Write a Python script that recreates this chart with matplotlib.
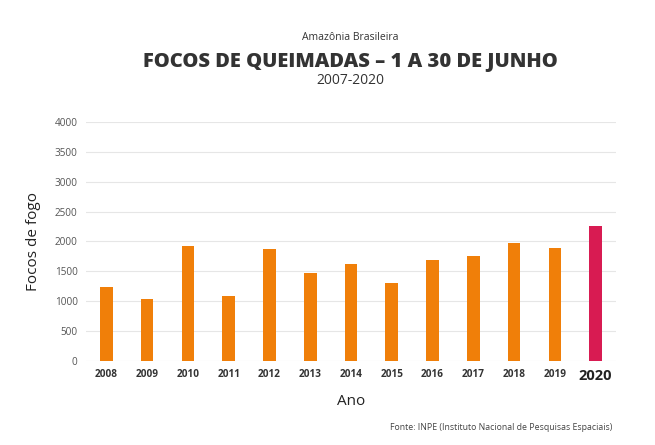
import matplotlib
matplotlib.use("Agg")
import matplotlib.pyplot as plt
import numpy as np

plt.rcParams['font.family'] = ['Open Sans', 'DejaVu Sans']

anos = ['2008', '2009', '2010', '2011', '2012', '2013', '2014',
        '2015', '2016', '2017', '2018', '2019', '2020']
focos = [1240, 1030, 1920, 1085, 1870, 1465, 1620,
         1300, 1680, 1760, 1975, 1895, 2250]
y_ticks = [0, 500, 1000, 1500, 2000, 2500, 3000, 3500, 4000]

laranja = '#F07F09'
destaque = '#D81B52'
cores = [laranja] * (len(anos) - 1) + [destaque]

fig = plt.figure(figsize=(6.55, 4.45), dpi=100)
ax = fig.add_axes([86 / 655, 1 - 360.7 / 445, 530 / 655, 238.7 / 445])

x = np.arange(len(anos))
ax.bar(x, focos, width=0.31, color=cores, zorder=3)

ax.set_xlim(-0.5, len(anos) - 0.5)
ax.set_ylim(0, 4000)
ax.set_yticks(y_ticks)
ax.set_yticklabels([str(t) for t in y_ticks], fontsize=7.2, color='#555555')
ax.set_xticks(x)
ax.set_xticklabels(anos, fontsize=7.2, fontweight='bold', color='#333333')
# 2020 em destaque
lbl = ax.get_xticklabels()[-1]
lbl.set_fontsize(10.5)
lbl.set_color('#222222')

ax.grid(axis='y', color='#e6e6e6', linewidth=0.8, zorder=0)
for s in ax.spines.values():
    s.set_visible(False)
ax.tick_params(axis='both', length=0)
ax.tick_params(axis='x', pad=6)
ax.tick_params(axis='y', pad=6)

ax.set_ylabel('Focos de fogo', fontsize=11, fontweight='medium', color='#222222', labelpad=10)
ax.set_xlabel('Ano', fontsize=11, fontweight='medium', color='#222222', labelpad=8)

cx = 350 / 655
fig.text(cx, 1 - 37 / 445, 'Amazônia Brasileira', ha='center', va='center',
         fontsize=7.5, color='#333333')
fig.text(cx, 1 - 62 / 445, 'FOCOS DE QUEIMADAS – 1 A 30 DE JUNHO', ha='center',
         va='center', fontsize=14.5, fontweight='heavy', color='#333333')
fig.text(cx, 1 - 81 / 445, '2007-2020', ha='center', va='center',
         fontsize=10, color='#333333')
fig.text(612 / 655, 1 - 428 / 445, 'Fonte: INPE (Instituto Nacional de Pesquisas Espaciais)',
         ha='right', va='center', fontsize=6.3, color='#444444')

fig.savefig('out.png', dpi=100, facecolor='white')
